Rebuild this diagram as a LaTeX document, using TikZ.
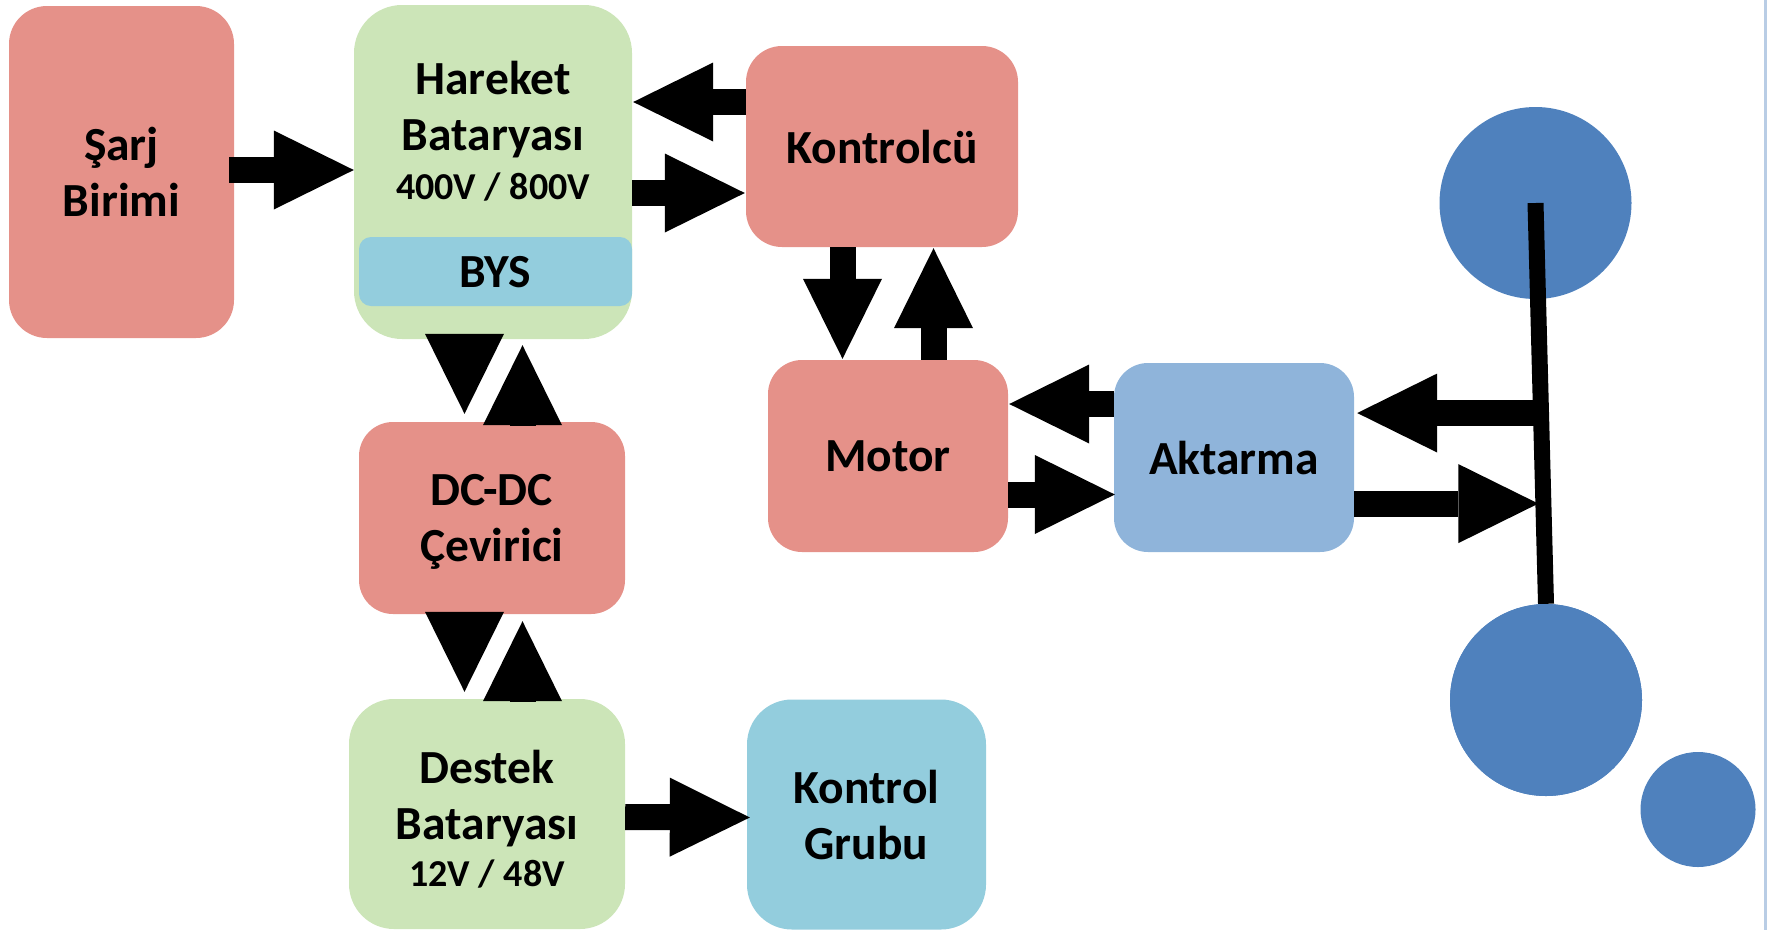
\documentclass[tikz,border=0pt]{standalone}
\usepackage{fontspec}
\setmainfont{Carlito}
\usetikzlibrary{arrows.meta,calc}
\definecolor{salmon}{HTML}{E59189}
\definecolor{lgreen}{HTML}{CCE5B8}
\definecolor{aqua}{HTML}{93CDDD}
\definecolor{steel}{HTML}{8FB4DA}
\definecolor{wheel}{HTML}{4F81BD}
\definecolor{edgeline}{HTML}{B9CDE5}
\begin{document}
\begin{tikzpicture}[x=1pt,y=-1pt,
  box/.style={rectangle, draw=none, inner sep=0pt, align=center, text depth=0pt,
    font=\bfseries\fontsize{47.5}{56}\selectfont},
  txt/.style={inner sep=0pt, align=center, text depth=0pt,
    font=\bfseries\fontsize{47.5}{56}\selectfont},
  blk/.style={line width=26pt, black, -{Triangle[length=80pt,width=79pt,line width=0pt]}},
  wheelc/.style={circle, fill=wheel, draw=none, inner sep=0pt}]
\useasboundingbox (0,0) rectangle (1769,930);

% boxes
\node[box, fill=salmon, minimum width=225pt, minimum height=332pt, rounded corners=38pt] (sarj) at (121.5,172) {Şarj\\Birimi};
\node[box, fill=lgreen, minimum width=278pt, minimum height=334pt, rounded corners=48pt] (hb) at (493,172) {};
\node[box, fill=aqua, minimum width=273pt, minimum height=69pt, rounded corners=12pt] (bys) at (495.5,271.5) {BYS};
\node[txt] (hbt) at (493,130) {Hareket\\Bataryası\\[-7pt]{\fontsize{38}{44}\selectfont 400V / 800V}};
\node[box, fill=salmon, minimum width=272pt, minimum height=201pt, rounded corners=36pt] (kon) at (882,146.5) {Kontrolcü};
\node[box, fill=salmon, minimum width=240pt, minimum height=192pt, rounded corners=34pt] (motor) at (888,456) {Motor};
\node[box, fill=steel, minimum width=240pt, minimum height=189pt, rounded corners=34pt] (akt) at (1234,457.5) {Aktarma};
\node[box, fill=salmon, minimum width=266pt, minimum height=192pt, rounded corners=34pt] (dcdc) at (492,518) {DC-DC\\Çevirici};
\node[box, fill=lgreen, minimum width=276pt, minimum height=230pt, rounded corners=45pt] (destek) at (487,814) {};
\node[txt] (destekt) at (487,818) {Destek\\Bataryası\\[-9pt]{\fontsize{38}{44}\selectfont 12V / 48V}};
\node[box, fill=aqua, minimum width=239pt, minimum height=230pt, rounded corners=45pt] (kg) at (866.5,814.5) {Kontrol\\Grubu};

% wheels and axle
\node[wheelc, minimum size=192pt] (c1) at (1535.5,203) {};
\node[wheelc, minimum size=192pt] (c2) at (1546,700) {};
\draw[line width=16pt] (c1.center) -- (c2.north);
\node[wheelc, minimum size=192pt] at (c2) {};
\node[wheelc, minimum size=115pt] (c3) at (1698,809.5) {};
\coordinate (ax1) at ($(c1.center)!0.524!(c2.north)$);
\coordinate (ax2) at ($(c1.center)!0.75!(c2.north)$);

% right edge line
\draw[edgeline, line width=3pt] (1765.5,0) -- (1765.5,930);

% block arrows
\draw[blk] ($(sarj.east)+(-5,-2)$) -- ($(sarj.east -| hb.west)+(0,-2)$);
\draw[blk] ($(kon.west)+(0,-44.5)$) -- ($(kon.west -| hb.east)+(1,-44.5)$);
\draw[blk] ($(kon.west -| hb.east)+(0,46.5)$) -- ($(kon.west)+(-1,46.5)$);
\draw[blk] ($(kon.south)+(-39.5,0)$) -- ($(motor.north)+(-45.5,-1)$);
\draw[blk] ($(motor.north)+(45.5,0)$) -- ($(kon.south)+(51.5,1)$);
\draw[blk] ($(akt.west)+(0,-53.5)$) -- ($(motor.east)+(1,-52)$);
\draw[blk] ($(motor.east)+(0,38.5)$) -- ($(akt.west)+(1,37)$);
\draw[blk] (ax1) -- ($(akt.east |- ax1)+(3,0)$);
\draw[blk] (akt.east |- ax2) -- ($(ax2)+(-5,0)$);
\draw[blk] ($(hb.south)+(-28.5,-5)$) -- ($(dcdc.north)+(-27.5,-8)$);
\draw[blk] ($(dcdc.north)+(30.5,3)$) -- ($(hb.south)+(29.5,6)$);
\draw[blk] ($(dcdc.south)+(-27.5,-2)$) -- ($(destek.north)+(-22.5,-7)$);
\draw[blk] ($(destek.north)+(35.5,2)$) -- ($(dcdc.south)+(30.5,7)$);
\draw[blk] ($(destek.east)+(0,3)$) -- ($(kg.west)+(3,3)$);
\end{tikzpicture}
\end{document}
